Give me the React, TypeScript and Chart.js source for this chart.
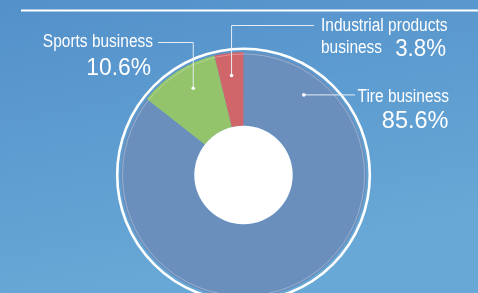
import React, { useEffect, useRef } from "react";
import { Chart, registerables } from "chart.js";

Chart.register(...registerables);

const categories = ["Tire business", "Sports business", "Industrial products business"];
const shares = [85.6, 10.6, 3.8];
const percentLabels = ["85.6%", "10.6%", "3.8%"];
const sliceColors = ["#6a8fbd", "#93c46b", "#d0666a"];

const W = 478;
const H = 293;

function drawText(
  ctx: CanvasRenderingContext2D,
  text: string,
  x: number,
  y: number,
  size: number,
  align: CanvasTextAlign,
  sx: number
) {
  ctx.save();
  ctx.translate(x, y);
  ctx.scale(sx, 1);
  ctx.font = `${size}px "Liberation Sans", Arial, sans-serif`;
  ctx.textAlign = align;
  ctx.textBaseline = "alphabetic";
  ctx.fillStyle = "#ffffff";
  ctx.fillText(text, 0, 0);
  ctx.restore();
}

const decorPlugin = {
  id: "decor",
  beforeDraw(chart: any) {
    const ctx = chart.ctx as CanvasRenderingContext2D;
    const g = ctx.createLinearGradient(0, 0, 60, chart.height);
    g.addColorStop(0, "#5390ca");
    g.addColorStop(1, "#67a8d6");
    ctx.save();
    ctx.fillStyle = g;
    ctx.fillRect(0, 0, chart.width, chart.height);
    ctx.strokeStyle = "#ffffff";
    ctx.lineWidth = 2;
    ctx.beginPath();
    ctx.moveTo(21, 10.5);
    ctx.lineTo(chart.width, 10.5);
    ctx.stroke();
    ctx.restore();
  },
  afterDatasetsDraw(chart: any) {
    const ctx = chart.ctx as CanvasRenderingContext2D;
    const meta = chart.getDatasetMeta(0);
    const arc0 = meta.data[0];
    const cx = arc0.x;
    const cy = arc0.y;
    const outer = arc0.outerRadius;
    const inner = arc0.innerRadius;

    ctx.save();
    // hole
    ctx.fillStyle = "#ffffff";
    ctx.beginPath();
    ctx.arc(cx, cy, inner, 0, Math.PI * 2);
    ctx.fill();
    // faint inner ring
    ctx.strokeStyle = "rgba(255,255,255,0.28)";
    ctx.lineWidth = 1;
    ctx.beginPath();
    ctx.arc(cx, cy, outer - 2, 0, Math.PI * 2);
    ctx.stroke();
    // outer white ring
    ctx.strokeStyle = "#ffffff";
    ctx.lineWidth = 2.6;
    ctx.beginPath();
    ctx.arc(cx, cy, outer + 3.3, 0, Math.PI * 2);
    ctx.stroke();

    // anchors
    const frac = [0.12, 0.57, 0.5];
    const pts = meta.data.map((a: any, i: number) => {
      const ang = a.startAngle + (a.endAngle - a.startAngle) * frac[i];
      const r = outer * 0.815;
      return { x: cx + Math.cos(ang) * r, y: cy + Math.sin(ang) * r };
    });

    ctx.strokeStyle = "rgba(235,240,245,0.95)";
    ctx.fillStyle = "#ffffff";
    ctx.lineWidth = 1;
    // Tire
    ctx.beginPath();
    ctx.moveTo(pts[0].x, pts[0].y);
    ctx.lineTo(355, pts[0].y);
    ctx.stroke();
    // Sports
    ctx.beginPath();
    ctx.moveTo(pts[1].x, pts[1].y);
    ctx.lineTo(pts[1].x, 42.5);
    ctx.lineTo(158, 42.5);
    ctx.stroke();
    // Industrial
    ctx.beginPath();
    ctx.moveTo(pts[2].x, pts[2].y);
    ctx.lineTo(pts[2].x, 25.5);
    ctx.lineTo(314, 25.5);
    ctx.stroke();
    for (const p of pts) {
      ctx.beginPath();
      ctx.arc(p.x, p.y, 1.8, 0, Math.PI * 2);
      ctx.fill();
    }
    ctx.restore();

    // labels
    drawText(ctx, "Sports business", 153, 46.7, 18, "right", 0.86);
    drawText(ctx, percentLabels[1], 151, 74.5, 24, "right", 0.95);
    drawText(ctx, "Industrial products", 321, 31, 18, "left", 0.86);
    drawText(ctx, "business", 321, 52.7, 18, "left", 0.86);
    drawText(ctx, percentLabels[2], 446, 55.5, 23, "right", 0.97);
    drawText(ctx, "Tire business", 449, 101.7, 18, "right", 0.86);
    drawText(ctx, percentLabels[0], 448.5, 128.3, 24, "right", 0.98);
  },
};

export default function App() {
  const ref = useRef<HTMLCanvasElement | null>(null);
  useEffect(() => {
    if (!ref.current) return;
    const chart = new Chart(ref.current, {
      type: "doughnut",
      data: {
        labels: categories,
        datasets: [
          {
            data: shares,
            backgroundColor: sliceColors,
            borderWidth: 0,
          },
        ],
      },
      options: {
        animation: false,
        responsive: false,
        cutout: "40%",
        rotation: 0,
        layout: { padding: { left: 120.5, right: 111.5, top: 52, bottom: 2 } },
        plugins: {
          legend: { display: false },
          tooltip: { enabled: false },
        },
      },
      plugins: [decorPlugin],
    });
    return () => chart.destroy();
  }, []);
  return (
    <div
      style={{
        position: "fixed",
        left: 0,
        top: 0,
        width: W,
        height: H,
        overflow: "hidden",
      }}
    >
      <canvas ref={ref} width={W} height={300} style={{ display: "block" }} />
    </div>
  );
}
